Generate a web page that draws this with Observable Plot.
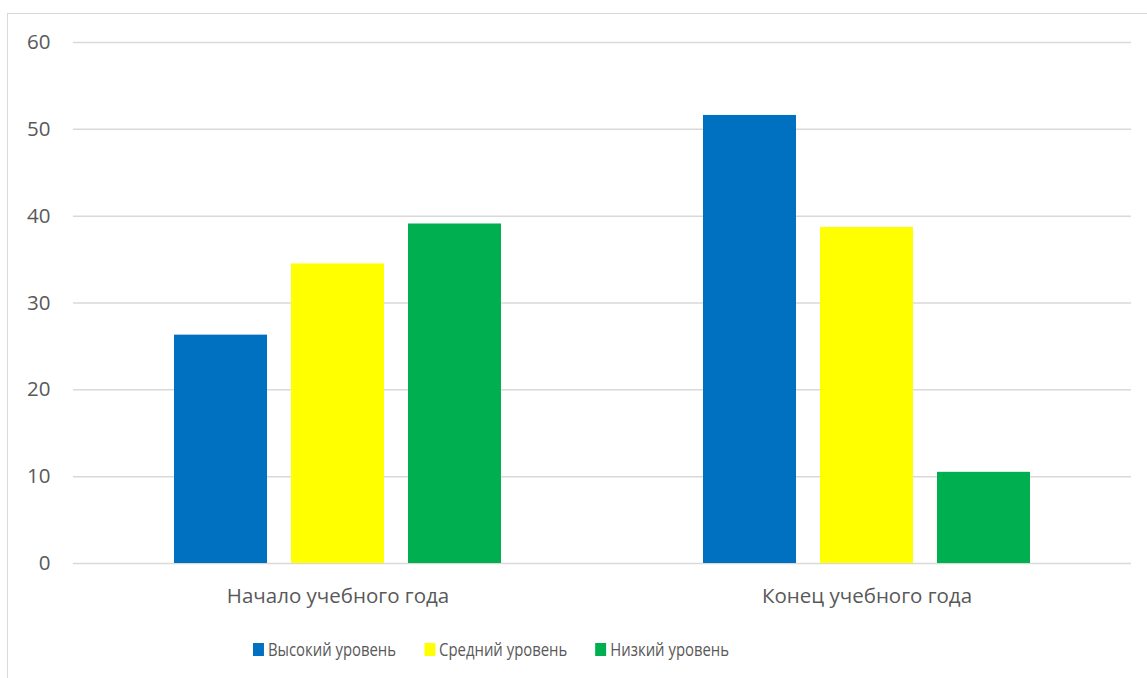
<!DOCTYPE html>
<html>
<head>
<meta charset="utf-8">
<script src="https://cdn.jsdelivr.net/npm/d3@7"></script>
<script src="https://cdn.jsdelivr.net/npm/@observablehq/plot@0.6"></script>
<style>
  html, body { margin: 0; padding: 0; background: #fff; }
  #wrap { position: relative; width: 1147px; height: 678px; overflow: hidden; }
  #frame { position: absolute; left: 7px; top: 13px; width: 1150px; height: 680px;
           border-left: 1.5px solid #d9d9d9; border-top: 1.5px solid #d9d9d9; box-sizing: border-box; }
  #chart { position: absolute; left: 0; top: 0; }
  #legend { position: absolute; left: 253px; top: 636px; display: flex; align-items: center; gap: 36px;
            font-family: "Open Sans", sans-serif; font-size: 19px; color: #595959; white-space: nowrap;
            transform: scaleX(0.783); transform-origin: left center; }
  .item { display: flex; align-items: center; }
  .sw { width: 14px; height: 13px; margin-right: 5px; }
</style>
</head>
<body>
<div id="wrap">
  <div id="frame"></div>
  <div id="chart"></div>
  <div id="legend"></div>
</div>
<script>
const categories = ["Начало учебного года", "Конец учебного года"];
const seriesNames = ["Высокий уровень", "Средний уровень", "Низкий уровень"];
const seriesColors = ["#0070C0", "#FFFF00", "#00B050"];
const highValues = [26.3, 51.6];
const midValues = [34.5, 38.7];
const lowValues = [39.1, 10.5];
const yTicks = [0, 10, 20, 30, 40, 50, 60];

const seriesValues = [highValues, midValues, lowValues];
const table = [];
categories.forEach((c, i) => {
  seriesNames.forEach((s, j) => {
    table.push({category: c, series: s, value: seriesValues[j][i]});
  });
});

const chart = Plot.plot({
  width: 1147,
  height: 620,
  marginTop: 42,
  marginBottom: 57,
  marginLeft: 72,
  marginRight: 16,
  style: {fontFamily: "Open Sans", fontSize: "20.5px", color: "#595959", background: "transparent"},
  fx: {domain: categories, padding: 0, label: null},
  x: {domain: seriesNames, paddingInner: 0.2085, paddingOuter: 0.857, align: 0.5, axis: null},
  y: {domain: [0, 60], label: null},
  color: {domain: seriesNames, range: seriesColors},
  marks: [
    Plot.gridY(yTicks, {stroke: "#d9d9d9", strokeOpacity: 1, strokeWidth: 1.5}),
    Plot.axisY(yTicks, {tickSize: 0, tickPadding: 23, label: null, fontSize: 20.5}),
    Plot.axisFx({anchor: "bottom", tickSize: 0, tickPadding: 25, label: null, fontSize: 20.5}),
    Plot.barY(table, {fx: "category", x: "series", y: "value", fill: "series"})
  ]
});
document.getElementById("chart").appendChild(chart);

const legend = document.getElementById("legend");
seriesNames.forEach((s, i) => {
  const item = document.createElement("div");
  item.className = "item";
  const sw = document.createElement("div");
  sw.className = "sw";
  sw.style.background = seriesColors[i];
  const t = document.createElement("span");
  t.textContent = s;
  item.appendChild(sw);
  item.appendChild(t);
  legend.appendChild(item);
});
</script>
</body>
</html>
